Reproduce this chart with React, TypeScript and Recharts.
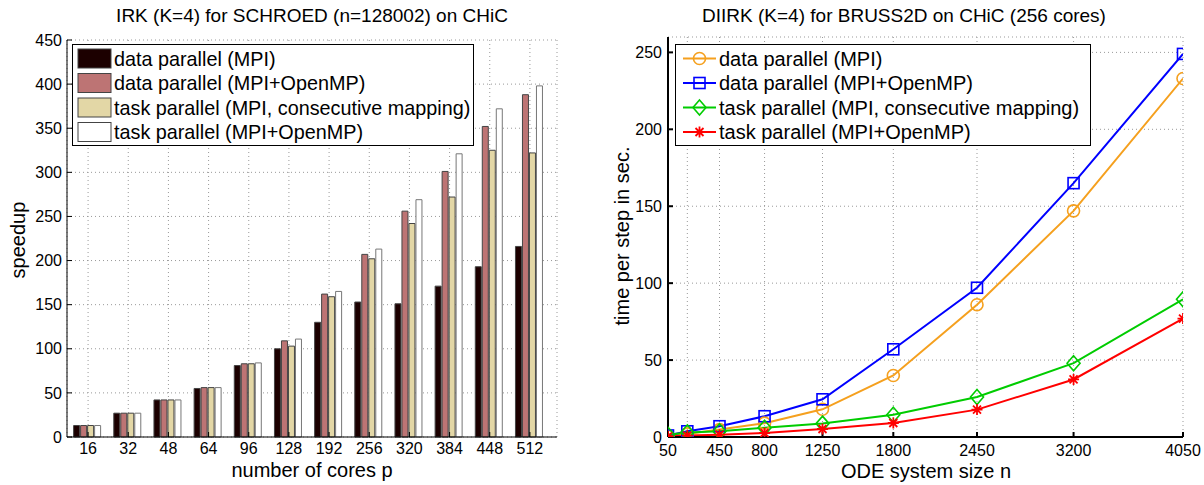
import {
  BarChart,
  Bar,
  LineChart,
  Line,
  XAxis,
  YAxis,
  CartesianGrid,
  Legend,
} from 'recharts';

// left: speedup per core count
const cores = ['16', '32', '48', '64', '96', '128', '192', '256', '320', '384', '448', '512'];
const speedDataMpi = [13, 27, 42, 55, 81, 100, 130, 153, 151, 171, 193, 216];
const speedDataHybrid = [13, 27, 42, 56, 83, 109, 162, 207, 256, 301, 352, 388];
const speedTaskMpi = [13, 27, 42, 56, 83, 103, 159, 202, 242, 272, 325, 322];
const speedTaskHybrid = [13, 27, 42, 56, 84, 111, 165, 213, 269, 321, 372, 398];
const speedTicks = [0, 50, 100, 150, 200, 250, 300, 350, 400, 450];

// right: time per step vs system size
const sizes = [50, 200, 450, 800, 1250, 1800, 2450, 3200, 4050];
const timeDataMpi = [0.5, 2, 4.8, 9, 18, 40, 86, 147, 233];
const timeDataHybrid = [1, 3.7, 7, 13.5, 24.5, 57, 97, 165, 249];
const timeTaskMpi = [1.5, 3, 3.7, 6, 8.7, 14.5, 26, 48, 89.5];
const timeTaskHybrid = [0.4, 0.9, 1.5, 2.6, 5.2, 9.1, 17.8, 37.4, 77];
const sizeTicks = [50, 200, 450, 800, 1250, 1800, 2450, 3200, 4050];
const timeTicks = [0, 50, 100, 150, 200, 250];

const labels = [
  'data parallel (MPI)',
  'data parallel (MPI+OpenMP)',
  'task parallel (MPI, consecutive mapping)',
  'task parallel (MPI+OpenMP)',
];

const barData = cores.map((p, i) => ({
  p,
  a: speedDataMpi[i],
  b: speedDataHybrid[i],
  c: speedTaskMpi[i],
  d: speedTaskHybrid[i],
}));

const lineData = sizes.map((n, i) => ({
  n,
  a: timeDataMpi[i],
  b: timeDataHybrid[i],
  c: timeTaskMpi[i],
  d: timeTaskHybrid[i],
}));

const barFills = ['#1c0000', '#bd7474', '#e3d7a6', '#ffffff'];
const lineColors = ['#f5a01e', '#0000ff', '#00cc00', '#ff0000'];

const font = '"Liberation Sans", Arial, sans-serif';
const tickStyle = { fill: '#000', fontSize: 16 };

function Marker({ kind, cx, cy, color }: { kind: number; cx: number; cy: number; color: string }) {
  if (cx == null || cy == null) return null;
  if (kind === 0) {
    return <circle cx={cx} cy={cy} r={6} fill="none" stroke={color} strokeWidth={1.6} />;
  }
  if (kind === 1) {
    return <rect x={cx - 5.5} y={cy - 5.5} width={11} height={11} fill="none" stroke={color} strokeWidth={1.6} />;
  }
  if (kind === 2) {
    return (
      <path
        d={`M${cx},${cy - 7.5}L${cx + 6.5},${cy}L${cx},${cy + 7.5}L${cx - 6.5},${cy}Z`}
        fill="none"
        stroke={color}
        strokeWidth={1.6}
      />
    );
  }
  return (
    <path
      d={`M${cx - 5.5},${cy}H${cx + 5.5}M${cx},${cy - 5.5}V${cy + 5.5}M${cx - 4},${cy - 4}L${cx + 4},${cy + 4}M${cx - 4},${cy + 4}L${cx + 4},${cy - 4}`}
      stroke={color}
      strokeWidth={1.8}
    />
  );
}

function BarLegend() {
  return (
    <div style={{ border: '1px solid #000', background: '#fff', width: 400, height: 100, fontFamily: font }}>
      <svg width={400} height={100}>
        {labels.map((l, i) => (
          <g key={l}>
            <rect x={5} y={4 + i * 24.5} width={33} height={19} fill={barFills[i]} stroke="#444" />
            <text x={41} y={20.5 + i * 24.5} fontSize={19.8} fill="#000">
              {l}
            </text>
          </g>
        ))}
      </svg>
    </div>
  );
}

function LineLegend() {
  return (
    <div style={{ border: '1px solid #000', background: '#fff', width: 414, height: 100, fontFamily: font }}>
      <svg width={414} height={100}>
        {labels.map((l, i) => (
          <g key={l}>
            <line x1={7} x2={40} y1={13.5 + i * 24.5} y2={13.5 + i * 24.5} stroke={lineColors[i]} strokeWidth={2} />
            <Marker kind={i} cx={23.5} cy={13.5 + i * 24.5} color={lineColors[i]} />
            <text x={43} y={20.5 + i * 24.5} fontSize={20} fill="#000">
              {l}
            </text>
          </g>
        ))}
      </svg>
    </div>
  );
}

const abs = (left: number, top: number, extra: object = {}) => ({
  position: 'absolute' as const,
  left,
  top,
  fontFamily: font,
  color: '#000',
  lineHeight: 1,
  whiteSpace: 'nowrap' as const,
  ...extra,
});

export default function App() {
  const keys = ['a', 'b', 'c', 'd'];
  return (
    <div style={{ position: 'absolute', left: 0, top: 0, width: 1204, height: 485, background: '#fff', fontFamily: font }}>
      <div style={abs(312, 6, { fontSize: 19, transform: 'translateX(-50%)' })}>IRK (K=4) for SCHROED (n=128002) on CHiC</div>
      <div style={abs(312, 460, { fontSize: 20, transform: 'translateX(-50%)' })}>number of cores p</div>
      <div style={abs(18, 240, { fontSize: 20, transform: 'translate(-50%, -50%) rotate(-90deg)' })}>speedup</div>

      <div style={abs(904, 6, { fontSize: 19, transform: 'translateX(-50%)' })}>DIIRK (K=4) for BRUSS2D on CHiC (256 cores)</div>
      <div style={abs(926, 461, { fontSize: 20, transform: 'translateX(-50%)' })}>ODE system size n</div>
      <div style={abs(622, 236, { fontSize: 20, transform: 'translate(-50%, -50%) rotate(-90deg)' })}>time per step in sec.</div>

      <div style={{ position: 'absolute', left: 0, top: 0 }}>
        <BarChart
          width={600}
          height={485}
          data={barData}
          margin={{ top: 40, right: 43, bottom: 18, left: 20 }}
          barCategoryGap="14%"
          barGap={1}
        >
          <CartesianGrid stroke="#999" strokeDasharray="1 3" />
          <XAxis
            dataKey="p"
            height={30}
            padding={{ left: 1, right: 7 }}
            tick={tickStyle}
            tickSize={-5}
            tickMargin={11}
            stroke="#000"
          />
          <XAxis
            xAxisId="top"
            dataKey="p"
            orientation="top"
            height={0}
            padding={{ left: 1, right: 7 }}
            tick={false}
            tickSize={-5}
            stroke="#000"
          />
          <YAxis
            domain={[0, 450]}
            ticks={speedTicks}
            width={47}
            tick={tickStyle}
            tickSize={-5}
            tickMargin={10}
            stroke="#000"
            interval={0}
          />
          <YAxis
            yAxisId="right"
            orientation="right"
            domain={[0, 450]}
            ticks={speedTicks}
            width={0}
            tick={false}
            tickSize={-5}
            stroke="#000"
          />
          <Legend
            layout="vertical"
            align="center"
            verticalAlign="middle"
            content={() => <BarLegend />}
            wrapperStyle={{ left: 72, top: 44, width: 'auto' }}
          />
          {keys.map((k, i) => (
            <Bar
              key={k}
              dataKey={k}
              name={labels[i]}
              fill={barFills[i]}
              stroke={i === 3 ? '#777' : '#444'}
              strokeWidth={1}
              isAnimationActive={false}
            />
          ))}
        </BarChart>
      </div>

      <div style={{ position: 'absolute', left: 600, top: 0 }}>
        <LineChart
          width={604}
          height={485}
          data={lineData}
          margin={{ top: 37, right: 21, bottom: 18, left: 20 }}
        >
          <CartesianGrid stroke="#999" strokeDasharray="1 3" />
          <XAxis
            dataKey="n"
            type="number"
            domain={[50, 4050]}
            ticks={sizeTicks}
            interval={0}
            height={30}
            tick={tickStyle}
            tickFormatter={(v: number) => (v === 200 ? '' : String(v))}
            tickSize={-5}
            tickMargin={13}
            stroke="#000"
            strokeWidth={2}
            allowDataOverflow
          />
          <XAxis
            xAxisId="top"
            dataKey="n"
            type="number"
            orientation="top"
            domain={[50, 4050]}
            ticks={sizeTicks}
            interval={0}
            height={0}
            tick={false}
            tickSize={-5}
            stroke="#000"
            strokeWidth={2}
            allowDataOverflow
          />
          <YAxis
            domain={[0, 260]}
            ticks={timeTicks}
            interval={0}
            width={48}
            tick={tickStyle}
            tickSize={-5}
            tickMargin={11}
            stroke="#000"
            strokeWidth={2}
            allowDataOverflow
          />
          <YAxis
            yAxisId="right"
            orientation="right"
            domain={[0, 260]}
            ticks={timeTicks}
            width={0}
            tick={false}
            tickSize={-5}
            stroke="#000"
            strokeWidth={2}
            allowDataOverflow
          />
          <Legend
            layout="vertical"
            align="center"
            verticalAlign="middle"
            content={() => <LineLegend />}
            wrapperStyle={{ left: 75, top: 44, width: 'auto' }}
          />
          {keys.map((k, i) => (
            <Line
              key={k}
              dataKey={k}
              name={labels[i]}
              stroke={lineColors[i]}
              strokeWidth={2}
              isAnimationActive={false}
              dot={(props: any) => <Marker key={props.index} kind={i} cx={props.cx} cy={props.cy} color={lineColors[i]} />}
              activeDot={false}
            />
          ))}
        </LineChart>
      </div>
    </div>
  );
}
